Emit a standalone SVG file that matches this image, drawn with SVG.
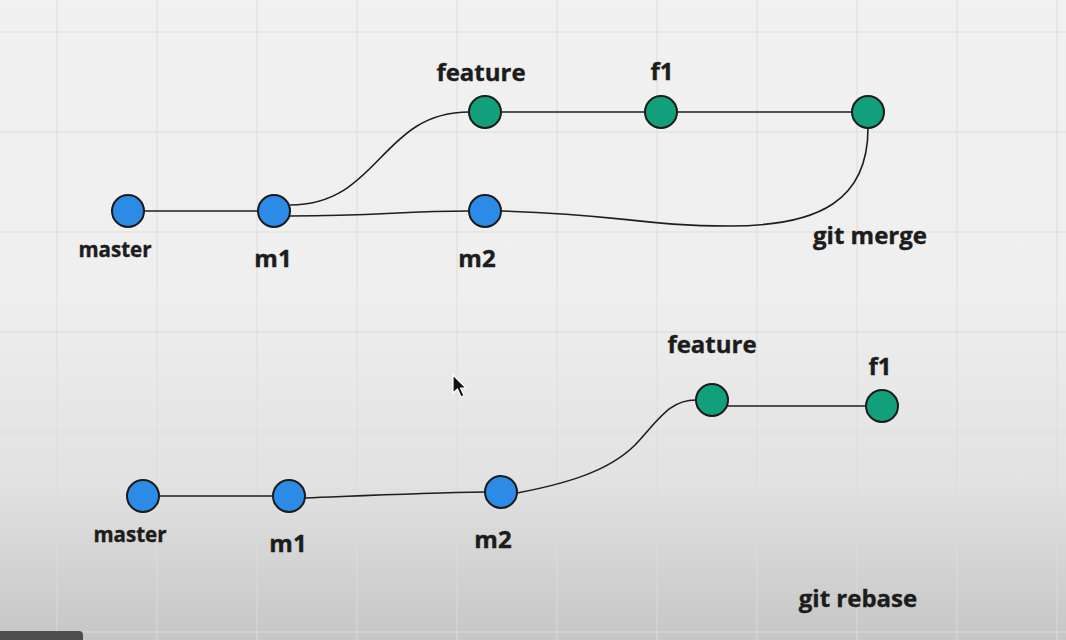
<svg xmlns="http://www.w3.org/2000/svg" width="1066" height="640" viewBox="0 0 1066 640">
  <defs>
    <linearGradient id="bg" x1="0" y1="0" x2="0" y2="1">
      <stop offset="0" stop-color="#f1f1f1"/>
      <stop offset="0.45" stop-color="#efefef"/>
      <stop offset="0.75" stop-color="#e2e2e2"/>
      <stop offset="1" stop-color="#c6c6c6"/>
    </linearGradient>
    <style>
      .grid line { stroke: #dcdcdc; stroke-width: 1.5; opacity: 0.6; }
      .edge { fill: none; stroke: #1e1e1e; stroke-width: 1.6; }
      .blue { fill: #2b8be6; stroke: #1a1a1a; stroke-width: 2; }
      .green { fill: #11a07b; stroke: #1a1a1a; stroke-width: 2; }
      .lbl { font-family: "Open Sans", "Noto Sans", "Liberation Sans", sans-serif; font-weight: 700; fill: #1c1c1c; stroke: #1c1c1c; stroke-width: 0.4; text-anchor: middle; }
      .big { font-size: 24px; }
      .small { font-size: 20.5px; }
    </style>
  </defs>
  <rect x="0" y="0" width="1066" height="640" fill="url(#bg)"/>
  <g class="grid">
    <line x1="57" y1="0" x2="57" y2="640"/>
    <line x1="157" y1="0" x2="157" y2="640"/>
    <line x1="257" y1="0" x2="257" y2="640"/>
    <line x1="357" y1="0" x2="357" y2="640"/>
    <line x1="457" y1="0" x2="457" y2="640"/>
    <line x1="557" y1="0" x2="557" y2="640"/>
    <line x1="657" y1="0" x2="657" y2="640"/>
    <line x1="757" y1="0" x2="757" y2="640"/>
    <line x1="857" y1="0" x2="857" y2="640"/>
    <line x1="957" y1="0" x2="957" y2="640"/>
    <line x1="1057" y1="0" x2="1057" y2="640"/>
    <line x1="0" y1="32" x2="1066" y2="32"/>
    <line x1="0" y1="132" x2="1066" y2="132"/>
    <line x1="0" y1="232" x2="1066" y2="232"/>
    <line x1="0" y1="332" x2="1066" y2="332"/>
    <line x1="0" y1="432" x2="1066" y2="432"/>
    <line x1="0" y1="532" x2="1066" y2="532"/>
    <line x1="0" y1="632" x2="1066" y2="632"/>
  </g>

  <g id="connectors">
    <!-- merge diagram -->
    <line class="edge" x1="144" y1="211" x2="258" y2="211"/>
    <path class="edge" d="M290,205 C380,205 380,112 469,112"/>
    <path class="edge" d="M290,216 C380,216 400,211 469,211"/>
    <line class="edge" x1="501" y1="112" x2="645" y2="112"/>
    <line class="edge" x1="677" y1="112" x2="852" y2="112"/>
    <path class="edge" d="M501,211 C620,214 640,226 730,226 C820,226 868,200 868,128"/>
    <!-- rebase diagram -->
    <line class="edge" x1="159" y1="496" x2="273" y2="496"/>
    <path class="edge" d="M305,498 C380,495 420,493 485,492"/>
    <path class="edge" d="M517,493 C570,483 610,470 635,445 C660,418 670,400 696,400"/>
    <line class="edge" x1="720" y1="406" x2="866" y2="406"/>
  </g>

  <g id="merge-master"><circle class="blue" cx="128" cy="211" r="16"/><text class="lbl small" x="115" y="257">master</text></g>
  <g id="merge-m1"><circle class="blue" cx="274" cy="211" r="16"/><text class="lbl big" x="273" y="267">m1</text></g>
  <g id="merge-m2"><circle class="blue" cx="485" cy="211" r="16"/><text class="lbl big" x="477" y="267">m2</text></g>
  <g id="merge-feature"><circle class="green" cx="485" cy="112" r="16"/><text class="lbl big" x="481" y="81">feature</text></g>
  <g id="merge-f1"><circle class="green" cx="661" cy="112" r="16"/><text class="lbl big" x="662" y="80">f1</text></g>
  <g id="merge-commit"><circle class="green" cx="868" cy="112" r="16"/><text class="lbl big" x="870" y="244">git merge</text></g>

  <g id="rebase-master"><circle class="blue" cx="143" cy="496" r="16"/><text class="lbl small" x="130" y="542">master</text></g>
  <g id="rebase-m1"><circle class="blue" cx="289" cy="496" r="16"/><text class="lbl big" x="288" y="552">m1</text></g>
  <g id="rebase-m2"><circle class="blue" cx="501" cy="492" r="16"/><text class="lbl big" x="493" y="548">m2</text></g>
  <g id="rebase-feature"><circle class="green" cx="712" cy="400" r="16"/><text class="lbl big" x="712" y="353">feature</text></g>
  <g id="rebase-f1"><circle class="green" cx="882" cy="406" r="16"/><text class="lbl big" x="880" y="375">f1</text></g>
  <g id="rebase-label"><text class="lbl big" x="858" y="607">git rebase</text></g>

  <path d="M453,375 L453,393 L457.5,389 L461,397 L464,395.5 L460.5,388 L466,388 Z" fill="#111" stroke="#fff" stroke-width="1.2" stroke-linejoin="round"/>
  <path d="M0,631 L79,631 Q83,631 83,635 L83,640 L0,640 Z" fill="#4e4e4e"/>
</svg>
